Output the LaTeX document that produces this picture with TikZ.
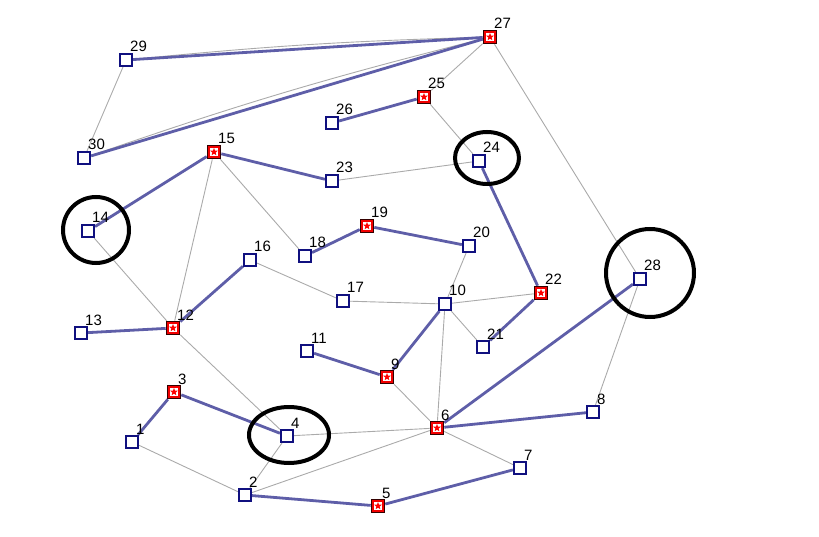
\documentclass[tikz,border=0pt]{standalone}
\usepackage{fontspec}
\setmainfont{Liberation Sans}
\usetikzlibrary{shapes.geometric}
\pgfdeclarelayer{bg}
\pgfsetlayers{bg,main}
\definecolor{thickc}{HTML}{5E5EA8}
\definecolor{thinc}{HTML}{AAAAAA}
\definecolor{navy}{HTML}{10107F}
\tikzset{
  bluev/.style={draw=navy, line width=2.2pt, fill=white, minimum size=12pt, inner sep=0pt},
  redv/.style={draw=black!80!red, line width=1.1pt, fill=red!95!black, minimum size=13.5pt, inner sep=0pt,
    path picture={
      \fill[white] ([shift={(-4.2pt,-4.2pt)}]path picture bounding box.center) rectangle ([shift={(4.2pt,4.2pt)}]path picture bounding box.center);
      \node[star, star points=5, star point ratio=2.3, fill=red, inner sep=0pt, minimum size=8pt] at (path picture bounding box.center) {};
    }},
  vlab/.style={anchor=base west, inner sep=0pt, font=\fontsize{15pt}{16pt}\selectfont},
  thickedge/.style={draw=thickc, line width=2.8pt},
  thinedge/.style={draw=thinc, line width=0.9pt},
  ring/.style={draw=black, line width=4pt},
}
\newcommand{\vtx}[4]{%
  \node[#4] (n#1) at (#2,#3) {};
  \node[vlab] (l#1) at (#2+4,#3-8) {#1};
}
\begin{document}
\begin{tikzpicture}[x=1pt,y=-1pt]
\useasboundingbox (0,0) rectangle (819,537);
\vtx{1}{132}{442}{bluev}
\vtx{2}{245}{495}{bluev}
\vtx{3}{174}{392}{redv}
\vtx{4}{287}{436}{bluev}
\vtx{5}{378}{506}{redv}
\vtx{6}{437}{428}{redv}
\vtx{7}{520}{468}{bluev}
\vtx{8}{593}{412}{bluev}
\vtx{9}{387}{377}{redv}
\vtx{10}{445}{304}{bluev}
\vtx{11}{307}{351}{bluev}
\vtx{12}{173}{328}{redv}
\vtx{13}{81}{333}{bluev}
\vtx{14}{88}{231}{bluev}
\vtx{15}{214}{152}{redv}
\vtx{16}{250}{260}{bluev}
\vtx{17}{343}{301}{bluev}
\vtx{18}{305}{256}{bluev}
\vtx{19}{367}{226}{redv}
\vtx{20}{469}{246}{bluev}
\vtx{21}{483}{347}{bluev}
\vtx{22}{541}{293}{redv}
\vtx{23}{332}{181}{bluev}
\vtx{24}{479}{161}{bluev}
\vtx{25}{424}{97}{redv}
\vtx{26}{332}{123}{bluev}
\vtx{27}{490}{37}{redv}
\vtx{28}{640}{279}{bluev}
\vtx{29}{126}{60}{bluev}
\vtx{30}{84}{158}{bluev}
\begin{pgfonlayer}{bg}
  % thin edges
  \foreach \a/\b in {29/30,27/25,25/24,27/28,24/23,15/18,15/12,14/12,12/4,16/17,17/10,10/22,20/10,10/21,10/6,9/6,6/4,6/2,6/7,4/2,1/2,28/8}
    \draw[thinedge] (n\a) -- (n\b);
  \draw[thinedge] (n29) to[bend left=2] (n27);
  \draw[thinedge] (n30) to[bend left=2.5] (n27);
  % thick edges
  \foreach \a/\b in {27/29,27/30,25/26,15/14,15/23,18/19,19/20,24/22,22/21,16/12,12/13,1/3,3/4,11/9,9/10,6/28,6/8,2/5,5/7}
    \draw[thickedge] (n\a) -- (n\b);
\end{pgfonlayer}
\draw[ring] (96,230) ellipse [x radius=33, y radius=33];
\draw[ring] (487,158) ellipse [x radius=32, y radius=26];
\draw[ring] (650,273) ellipse [x radius=44, y radius=44];
\draw[ring] (289,435) ellipse [x radius=40, y radius=28];
\end{tikzpicture}
\end{document}
